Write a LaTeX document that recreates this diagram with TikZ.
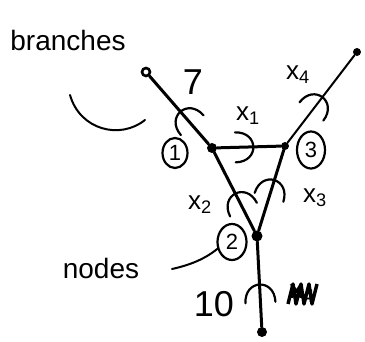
\documentclass[tikz,border=0pt]{standalone}
\usepackage{fontspec}
\setmainfont{Liberation Sans}
\usetikzlibrary{decorations.markings,shapes.geometric}
\begin{document}
\begin{tikzpicture}[x=1pt,y=-1pt,
  wire/.style={line width=3pt, line cap=round},
  thinwire/.style={line width=2pt, line cap=round},
  junc/.style={circle, fill=black, inner sep=0pt, minimum size=#1},
  cmark/.style={postaction={decorate,decoration={markings,mark=at position #1 with {\draw[line width=2.2pt,line cap=round] (-20,-15) .. controls (4,-15) and (4,15) .. (-20,15);}}}},
  lbl/.style={inner sep=0pt, font=\fontsize{26}{26}\selectfont},
  big/.style={inner sep=0pt, font=\fontsize{36}{36}\selectfont},
  word/.style={inner sep=0pt, font=\fontsize{28}{28}\selectfont},
  circnum/.style={ellipse, draw, line width=2.2pt, inner sep=0pt, font=\fontsize{22}{22}\selectfont},
  pointer/.style={line width=2pt, line cap=round}]
\useasboundingbox (0,0) rectangle (365,342);
% junctions and end points
\node[junc=10pt] (n1) at (212,148) {};
\node[junc=8pt] (n3) at (285,146) {};
\node[junc=11pt] (n2) at (257,236) {};
\node[circle, draw, line width=2.6pt, inner sep=0pt, minimum size=8pt] (e1) at (146,72) {};
\node[junc=8pt] (e2) at (357,52) {};
\node[junc=10pt] (e3) at (262,332) {};
% branches with current marks
\draw[wire, cmark=0.5] (n1) -- (e1);
\draw[wire, cmark=0.6] (n1) -- (n3);
\draw[wire, cmark=0.5] (n2) -- (n1);
\draw[wire, cmark=0.65] (n2) -- (n3);
\draw[thinwire, cmark=0.54] (n3) -- (e2);
\draw[wire, cmark=0.52] (e3) -- (n2);
% circled node numbers
\node[circnum, minimum width=25pt, minimum height=30pt] (c1) at (175,153) {1};
\node[circnum, minimum width=28pt, minimum height=37pt] (c3) at (311,150) {3};
\node[circnum, minimum width=29pt, minimum height=36pt] (c2) at (232,242) {2};
% branch labels
\node[big] (l7) at (193,82) {7};
\node[lbl] (lx1) at (248,116) {x\textsubscript{1}};
\node[lbl] (lx4) at (298,75) {x\textsubscript{4}};
\node[lbl] (lx2) at (200,205) {x\textsubscript{2}};
\node[lbl] (lx3) at (315,198) {x\textsubscript{3}};
\node[big] (l10) at (214,304) {10};
\node[lbl] (xx) at (302,294) {\textbf{x\textsubscript{4}}};
\draw[line width=3.4pt, line join=round] ([shift={(-14,10)}]xx.center) -- ++(5,-20) -- ++(3,20) -- ++(5,-20) -- ++(3,20) -- ++(5,-20) -- ++(3,20) -- ++(5,-20);
% words and pointers
\node[word] (wb) at (68,40) {branches};
\node[word] (wn) at (101,268) {nodes};
\coordinate (b1) at (70,95);
\coordinate (b2) at (145,120);
\draw[pointer] (b1) .. controls (80,130) and (120,140) .. (b2);
\coordinate (p1) at (172,269);
\draw[pointer] (p1) .. controls (190,265) and (205,259) .. (c2.205);
\end{tikzpicture}
\end{document}
